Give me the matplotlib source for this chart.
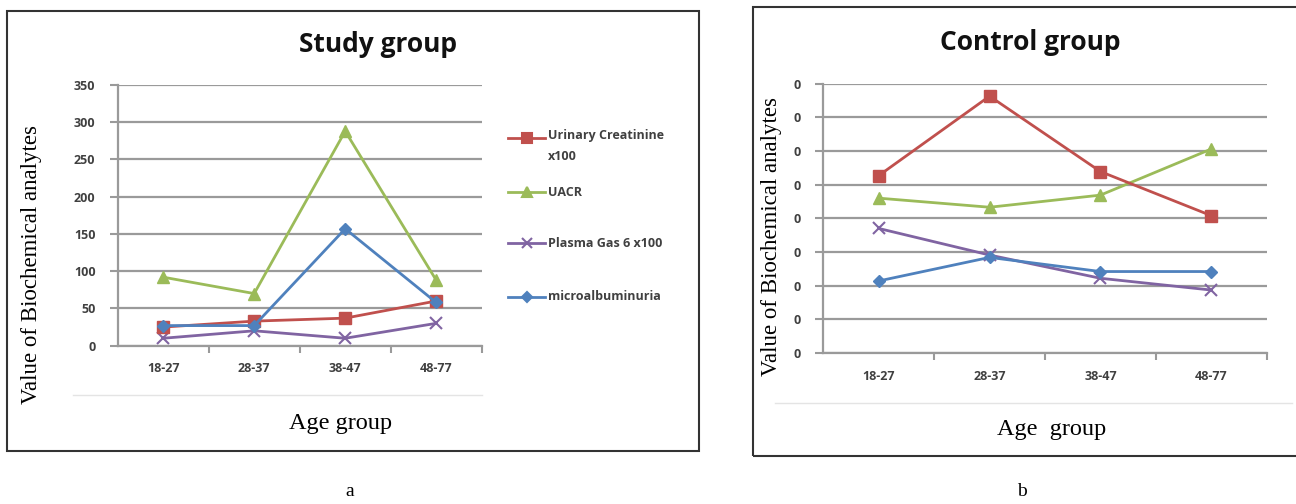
import matplotlib.pyplot as plt
from matplotlib.patches import Rectangle
from matplotlib.lines import Line2D

age_groups = ['18-27', '28-37', '38-47', '48-77']

# Study group (panel a)
study_creatinine = [25, 33, 37, 60]
study_uacr = [92, 70, 288, 88]
study_gas6 = [10, 20, 10, 30]
study_micro = [27, 27, 157, 58]

# Control group (panel b) - tick labels are cropped to "0" in the source
control_creatinine = [52.7, 76.3, 53.9, 40.8]
control_uacr = [46.0, 43.3, 46.9, 60.6]
control_gas6 = [37.0, 29.1, 22.2, 18.7]
control_micro = [21.4, 28.4, 24.2, 24.2]

legend_labels = ['Urinary Creatinine\nx100', 'UACR', 'Plasma Gas 6 x100', 'microalbuminuria']

RED = '#C0504D'
GREEN = '#9BBB59'
PURPLE = '#8064A2'
BLUE = '#4F81BD'
GRID = '#9a9a9a'
TICK = '#404040'

W, H = 1296, 504
fig = plt.figure(figsize=(W / 100, H / 100), dpi=100)


def fx(px):
  return px / W


def fy(py):
  return 1 - py / H


def style_axes(ax, ymax, ystep, ylabels):
  ax.set_xlim(-0.5, 3.5)
  ax.set_ylim(0, ymax)
  yt = list(range(0, ymax + 1, ystep))
  ax.set_yticks(yt)
  ax.set_yticklabels(ylabels(yt), fontsize=9, color=TICK, fontweight='bold',
                     family='Open Sans')
  ax.set_xticks(range(4))
  ax.set_xticklabels(age_groups, fontsize=9, color=TICK, fontweight='bold',
                     family='Open Sans')
  ax.set_xticks([0.5, 1.5, 2.5, 3.5], minor=True)
  ax.tick_params(axis='x', which='major', length=0, pad=12)
  ax.tick_params(axis='x', which='minor', length=5, width=1.5, color=GRID)
  ax.tick_params(axis='y', length=6, width=1.5, color=GRID, pad=10)
  ax.grid(axis='y', color=GRID, linewidth=1.6)
  ax.set_axisbelow(True)
  for s in ['top', 'right']:
    ax.spines[s].set_visible(False)
  for s in ['left', 'bottom']:
    ax.spines[s].set_color(GRID)
    ax.spines[s].set_linewidth(1.6)


def draw_series(ax, cre, uacr, gas, micro):
  x = range(4)
  ax.plot(x, cre, color=RED, lw=2, marker='s', ms=8, clip_on=False, zorder=4)
  ax.plot(x, uacr, color=GREEN, lw=2, marker='^', ms=8, clip_on=False, zorder=3)
  ax.plot(x, gas, color=PURPLE, lw=2, marker='x', ms=9, mew=1.5, clip_on=False,
          zorder=3)
  ax.plot(x, micro, color=BLUE, lw=2, marker='D', ms=6, clip_on=False, zorder=5)


# panel frames
fig.patches.append(Rectangle((fx(6.5), fy(451)), fx(699 - 6.5), 1 - fy(451 - 11),
                             transform=fig.transFigure, fill=False,
                             edgecolor='#333333', lw=1.5))
fig.patches.append(Rectangle((fx(753), fy(456)), fx(1300 - 753), 1 - fy(456 - 7),
                             transform=fig.transFigure, fill=False,
                             edgecolor='#333333', lw=1.5))
# faint inner edges of the pasted chart areas
fig.add_artist(Line2D([fx(73), fx(482)], [fy(395), fy(395)], color='#e4e4e4', lw=1))
fig.add_artist(Line2D([fx(775), fx(1292)], [fy(403), fy(403)], color='#e4e4e4', lw=1))

# panel a
ax1 = fig.add_axes([fx(117.7), fy(345.7), fx(481.7 - 117.7), fy(85) - fy(345.7)])
style_axes(ax1, 350, 50, lambda t: [str(v) for v in t])
draw_series(ax1, study_creatinine, study_uacr, study_gas6, study_micro)

# legend drawn by hand to match the source layout
leg_styles = [(RED, 's', 7), (GREEN, '^', 7), (PURPLE, 'x', 7), (BLUE, 'D', 5)]
leg_y = [138, 192, 243, 297]
for (col, mk, ms), yy in zip(leg_styles, leg_y):
  fig.add_artist(Line2D([fx(508), fx(545)], [fy(yy), fy(yy)], color=col, lw=2))
  fig.add_artist(Line2D([fx(526.5)], [fy(yy)], color=col, lw=0, marker=mk,
                        ms=ms, mew=1.5))
for lab, yy in zip(legend_labels, leg_y):
  fig.text(fx(548), fy(yy - 9) if '\n' in lab else fy(yy), lab, fontsize=9,
           color=TICK, family='Open Sans',
           va='top' if '\n' in lab else 'center', linespacing=1.75,
           fontweight='bold')

fig.text(fx(378), fy(45), 'Study group', fontsize=19, fontweight='bold',
         family='Open Sans', ha='center', va='center', color='#111111')
fig.text(fx(32), fy(265), 'Value of Biochemical analytes', rotation=90,
         fontsize=16.5, family='Liberation Serif', ha='center', va='center')
fig.text(fx(341), fy(423), 'Age group', fontsize=17.5, family='Liberation Serif',
         ha='center', va='center')

# panel b
ax2 = fig.add_axes([fx(823.3), fy(353), fx(1266.7 - 823.3), fy(83.7) - fy(353)])
style_axes(ax2, 80, 10, lambda t: ['0'] * len(t))
draw_series(ax2, control_creatinine, control_uacr, control_gas6, control_micro)

fig.text(fx(1030), fy(42), 'Control group', fontsize=19, fontweight='bold',
         family='Open Sans', ha='center', va='center', color='#111111')
fig.text(fx(771), fy(237), 'Value of Biochemical analytes', rotation=90,
         fontsize=16.5, family='Liberation Serif', ha='center', va='center')
fig.text(fx(1052), fy(430), 'Age  group', fontsize=17.5, family='Liberation Serif',
         ha='center', va='center')

fig.text(fx(350), fy(492), 'a', fontsize=14, family='Liberation Serif',
         ha='center', va='center')
fig.text(fx(1022), fy(492), 'b', fontsize=14, family='Liberation Serif',
         ha='center', va='center')

fig.savefig('out.png', dpi=100)
